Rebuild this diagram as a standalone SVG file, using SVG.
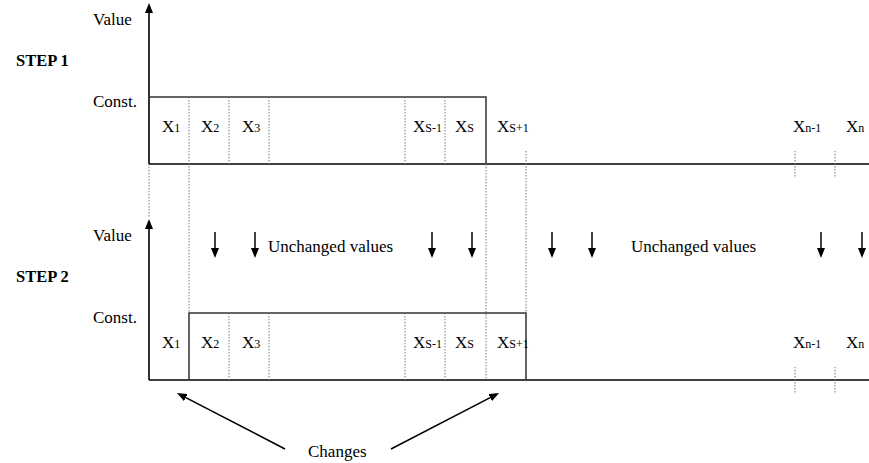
<svg xmlns="http://www.w3.org/2000/svg" width="869" height="463" viewBox="0 0 869 463">
<style>
text{font-family:"Liberation Serif","Times New Roman",serif;font-size:17px;fill:#000}
.step{font-weight:bold;font-size:16.5px}
.sub{font-size:12px}
.axis{stroke:#000;stroke-width:1.6;fill:none}
.box{stroke:#333;stroke-width:1.5;fill:none}
.dot{stroke:#777;stroke-width:1;stroke-dasharray:1.5,1.5;fill:none}
.arr{stroke:#000;stroke-width:1.5;fill:none}
</style>
<defs>
<marker id="ah" markerUnits="userSpaceOnUse" markerWidth="10" markerHeight="8" refX="6" refY="4" orient="auto">
<path d="M0,0 L10,4 L0,8 z" fill="#000"/>
</marker>
</defs>
<g id="labels">
<text class="step" x="16" y="66">STEP 1</text>
<text class="step" x="16" y="282">STEP 2</text>
<text x="93" y="25">Value</text>
<text x="93" y="107">Const.</text>
<text x="93" y="241">Value</text>
<text x="93" y="323">Const.</text>
</g>
<g id="step1">
<line class="axis" x1="149" y1="164" x2="149" y2="7" marker-end="url(#ah)"/>
<line class="axis" x1="149" y1="164" x2="869" y2="164"/>
<polyline class="box" points="149,97 486,97 486,164"/>
<g class="cells">
<line class="dot" x1="229" y1="97" x2="229" y2="164"/>
<line class="dot" x1="269" y1="97" x2="269" y2="164"/>
<line class="dot" x1="405" y1="97" x2="405" y2="164"/>
<line class="dot" x1="445" y1="97" x2="445" y2="164"/>
<line class="dot" x1="795" y1="151" x2="795" y2="178"/>
<line class="dot" x1="835" y1="151" x2="835" y2="178"/>
</g>
<text x="162" y="132">X<tspan class="sub">1</tspan></text>
<text x="201" y="132">X<tspan class="sub">2</tspan></text>
<text x="242" y="132">X<tspan class="sub">3</tspan></text>
<text x="413" y="132">X<tspan class="sub">S-1</tspan></text>
<text x="455" y="132">X<tspan class="sub">S</tspan></text>
<text x="497" y="132">X<tspan class="sub">S+1</tspan></text>
<text x="793" y="132">X<tspan class="sub">n-1</tspan></text>
<text x="846" y="132">X<tspan class="sub">n</tspan></text>
</g>
<g id="guides">
<line class="dot" x1="149" y1="164" x2="149" y2="218"/>
<line class="dot" x1="189" y1="97" x2="189" y2="313"/>
<line class="dot" x1="486" y1="164" x2="486" y2="380"/>
<line class="dot" x1="526" y1="151" x2="526" y2="313"/>
</g>
<g id="step2">
<line class="axis" x1="149" y1="380" x2="149" y2="223" marker-end="url(#ah)"/>
<line class="axis" x1="149" y1="380" x2="869" y2="380"/>
<polyline class="box" points="189,380 189,313 526,313 526,380"/>
<g class="cells">
<line class="dot" x1="229" y1="313" x2="229" y2="380"/>
<line class="dot" x1="269" y1="313" x2="269" y2="380"/>
<line class="dot" x1="405" y1="313" x2="405" y2="380"/>
<line class="dot" x1="445" y1="313" x2="445" y2="380"/>
<line class="dot" x1="795" y1="367" x2="795" y2="394"/>
<line class="dot" x1="835" y1="367" x2="835" y2="394"/>
</g>
<text x="162" y="348">X<tspan class="sub">1</tspan></text>
<text x="201" y="348">X<tspan class="sub">2</tspan></text>
<text x="242" y="348">X<tspan class="sub">3</tspan></text>
<text x="413" y="348">X<tspan class="sub">S-1</tspan></text>
<text x="455" y="348">X<tspan class="sub">S</tspan></text>
<text x="497" y="348">X<tspan class="sub">S+1</tspan></text>
<text x="793" y="348">X<tspan class="sub">n-1</tspan></text>
<text x="846" y="348">X<tspan class="sub">n</tspan></text>
</g>
<g id="unchanged">
<text x="268" y="252">Unchanged values</text>
<text x="631" y="252">Unchanged values</text>
</g>
<g id="connectors">
<line class="arr" x1="215" y1="232" x2="215" y2="254" marker-end="url(#ah)"/>
<line class="arr" x1="255" y1="232" x2="255" y2="254" marker-end="url(#ah)"/>
<line class="arr" x1="432" y1="232" x2="432" y2="254" marker-end="url(#ah)"/>
<line class="arr" x1="472" y1="232" x2="472" y2="254" marker-end="url(#ah)"/>
<line class="arr" x1="552" y1="232" x2="552" y2="254" marker-end="url(#ah)"/>
<line class="arr" x1="592" y1="232" x2="592" y2="254" marker-end="url(#ah)"/>
<line class="arr" x1="821" y1="232" x2="821" y2="254" marker-end="url(#ah)"/>
<line class="arr" x1="862" y1="232" x2="862" y2="254" marker-end="url(#ah)"/>
<line class="arr" x1="285" y1="449" x2="180.5" y2="394.8" marker-end="url(#ah)"/>
<line class="arr" x1="391" y1="449" x2="495.5" y2="394.8" marker-end="url(#ah)"/>
</g>
<g id="changes">
<text x="308" y="457">Changes</text>
</g>
</svg>
